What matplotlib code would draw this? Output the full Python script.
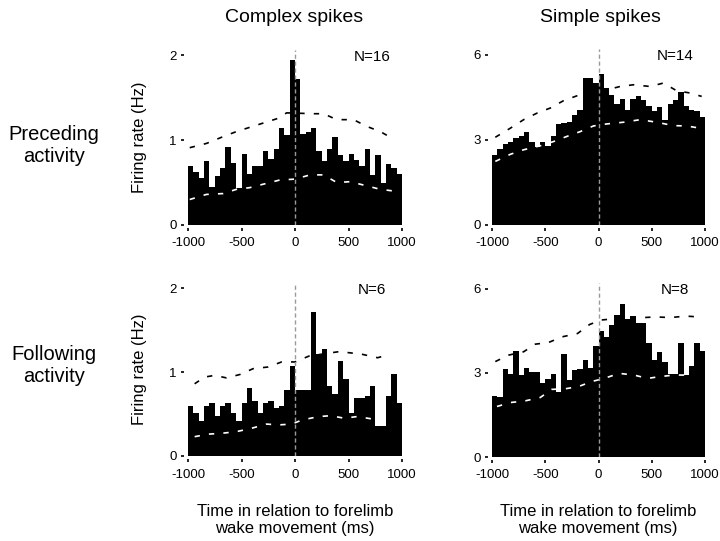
import numpy as np
import matplotlib
matplotlib.use("Agg")
import matplotlib.pyplot as plt

plt.rcParams["font.family"] = ["Liberation Sans", "DejaVu Sans"]

# ---------- data ----------
bin_start = -1000
bin_width = 50

# mean firing rate per 50 ms bin, -1000..1000 ms
cs_pre = [0.69, 0.62, 0.55, 0.75, 0.45, 0.58, 0.67, 0.92, 0.73, 0.43,
          0.84, 0.60, 0.69, 0.69, 0.87, 0.78, 0.90, 1.14, 1.06, 1.94,
          1.72, 1.07, 1.10, 1.14, 0.87, 0.75, 0.90, 1.04, 0.82, 0.75,
          0.84, 0.76, 0.69, 0.90, 0.59, 0.82, 0.49, 0.72, 0.67, 0.60]
ss_pre = [2.47, 2.67, 2.86, 2.93, 3.05, 3.12, 3.26, 2.94, 2.74, 2.94,
          2.79, 3.12, 3.56, 3.59, 3.64, 3.88, 4.04, 5.18, 5.18, 5.00,
          5.32, 4.82, 4.59, 4.27, 4.44, 4.06, 4.45, 4.56, 4.39, 4.20,
          4.00, 4.15, 3.71, 4.26, 4.41, 4.68, 4.20, 4.04, 4.02, 3.82]
cs_fol = [0.60, 0.51, 0.42, 0.60, 0.63, 0.48, 0.60, 0.63, 0.51, 0.42,
          0.63, 0.81, 0.66, 0.51, 0.63, 0.66, 0.57, 0.60, 0.78, 1.07,
          0.79, 0.78, 0.78, 1.72, 1.22, 1.28, 0.83, 0.74, 1.13, 0.92,
          0.51, 0.69, 0.69, 0.72, 0.83, 0.36, 0.36, 0.72, 0.98, 0.63]
ss_fol = [2.18, 2.13, 3.12, 2.96, 3.79, 2.92, 3.16, 3.04, 3.04, 2.63,
          2.77, 2.96, 2.30, 3.66, 2.75, 3.10, 3.12, 3.46, 3.16, 3.95,
          4.49, 4.28, 4.72, 5.05, 5.44, 4.91, 5.03, 4.79, 4.78, 4.05,
          3.46, 3.73, 3.40, 2.95, 2.95, 4.07, 2.92, 3.24, 4.07, 3.79]

# confidence bounds (dashed), sampled points
cs_pre_hi_t = [-984, -828, -672, -547, -422, -297, -172, -78, 172, 266, 391, 547, 672, 797, 922]
cs_pre_hi = [0.91, 0.96, 1.04, 1.10, 1.15, 1.20, 1.25, 1.32, 1.31, 1.31, 1.24, 1.24, 1.16, 1.10, 1.01]
cs_pre_lo_t = [-984, -828, -672, -547, -422, -266, -141, 0, 141, 266, 391, 516, 641, 797, 922]
cs_pre_lo = [0.30, 0.36, 0.37, 0.42, 0.44, 0.49, 0.53, 0.54, 0.59, 0.59, 0.50, 0.51, 0.47, 0.42, 0.40]

ss_pre_hi_t = [-969, -828, -703, -578, -453, -328, -203, 78, 203, 328, 484, 609, 734, 859, 969]
ss_pre_hi = [3.09, 3.41, 3.71, 3.94, 4.12, 4.38, 4.55, 4.76, 4.88, 4.94, 4.88, 5.00, 4.73, 4.65, 4.53]
ss_pre_lo_t = [-969, -828, -703, -547, -422, -297, -172, -47, 78, 234, 391, 547, 703, 828, 953]
ss_pre_lo = [2.24, 2.49, 2.65, 2.79, 2.94, 3.12, 3.29, 3.49, 3.56, 3.62, 3.71, 3.62, 3.50, 3.49, 3.41]

cs_fol_hi_t = [-938, -844, -750, -641, -516, -391, -250, -125, 0, 131, 397, 506, 631, 772, 881]
cs_fol_hi = [0.86, 0.94, 0.96, 0.93, 0.97, 1.04, 1.06, 1.12, 1.12, 1.19, 1.24, 1.23, 1.21, 1.17, 1.21]
cs_fol_lo_t = [-938, -813, -688, -547, -406, -266, -156, -31, 69, 225, 334, 459, 584, 725, 850]
cs_fol_lo = [0.23, 0.26, 0.27, 0.29, 0.33, 0.38, 0.37, 0.38, 0.43, 0.47, 0.48, 0.45, 0.47, 0.44, 0.46]

ss_fol_hi_t = [-969, -844, -703, -594, -469, -344, -197, -84, 22, 163, 428, 538, 678, 819, 953]
ss_fol_hi = [3.40, 3.63, 3.75, 4.02, 4.08, 4.28, 4.40, 4.72, 4.88, 4.93, 4.97, 4.99, 4.97, 5.02, 4.99]
ss_fol_lo_t = [-953, -828, -688, -547, -438, -313, -188, -63, 53, 194, 334, 459, 569, 709, 850]
ss_fol_lo = [1.80, 1.94, 2.00, 2.12, 2.41, 2.43, 2.51, 2.69, 2.80, 2.98, 2.92, 2.80, 2.86, 2.92, 2.92]

panels = [
    # rates, hi_t, hi, lo_t, lo, yticks, ymax, N
    (cs_pre, cs_pre_hi_t, cs_pre_hi, cs_pre_lo_t, cs_pre_lo, [0, 1, 2], 2.06, "N=16"),
    (ss_pre, ss_pre_hi_t, ss_pre_hi, ss_pre_lo_t, ss_pre_lo, [0, 3, 6], 6.2, "N=14"),
    (cs_fol, cs_fol_hi_t, cs_fol_hi, cs_fol_lo_t, cs_fol_lo, [0, 1, 2], 2.06, "N=6"),
    (ss_fol, ss_fol_hi_t, ss_fol_hi, ss_fol_lo_t, ss_fol_lo, [0, 3, 6], 6.2, "N=8"),
]
xticks = [-1000, -500, 0, 500, 1000]

# ---------- figure ----------
W, H = 720, 541
fig = plt.figure(figsize=(W / 100, H / 100), dpi=100)

# axes boxes in pixels: left, top, right, bottom
boxes = [(188, 50, 402, 225), (492, 49, 705, 225),
         (188, 283, 402, 456), (492, 283, 705, 457)]

axes = []
for (l, t, r, b) in boxes:
    axes.append(fig.add_axes([l / W, 1 - b / H, (r - l) / W, (b - t) / H]))

for i, (ax, p) in enumerate(zip(axes, panels)):
    rates, hi_t, hi, lo_t, lo, yt, ymax, ntxt = p
    left_edges = bin_start + bin_width * np.arange(len(rates))
    ax.bar(left_edges, rates, width=bin_width, align="edge",
           color="black", edgecolor="none", zorder=2)
    ax.plot(hi_t, hi, color="black", lw=1.2, dashes=(3.2, 5.5), zorder=3)
    ax.plot(lo_t, lo, color="white", lw=1.2, dashes=(3.2, 5.5), zorder=3)
    ax.axvline(0, color="#9a9a9a", lw=1.0, dashes=(3, 2), zorder=4)

    ax.set_xlim(-1000, 1000)
    ax.set_ylim(0, ymax)
    ax.set_xticks(xticks)
    ax.set_yticks(yt)
    ax.set_xticklabels([str(v) for v in xticks])
    ax.set_yticklabels([str(v) for v in yt])

    for s in ("top", "right"):
        ax.spines[s].set_visible(False)
    ax.spines["left"].set_position(("outward", 3))
    ax.spines["bottom"].set_position(("outward", 2))
    ax.spines["left"].set_visible(False)
    ax.spines["bottom"].set_visible(False)
    ax.tick_params(axis="both", direction="out", length=2, width=1.2,
                   labelsize=9.5, color="black")
    ax.tick_params(axis="x", pad=5)
    ax.tick_params(axis="y", pad=3)

    ax.text(0.86, 0.96, ntxt, transform=ax.transAxes, ha="center", va="center",
            fontsize=11)
    if i % 2 == 0:
        ax.set_ylabel("Firing rate (Hz)", fontsize=12)
        ax.yaxis.set_label_coords(-0.19, 0.5)

# column titles
fig.text(294 / W, 1 - 17 / H, "Complex spikes", ha="center", va="center", fontsize=14)
fig.text(600 / W, 1 - 17 / H, "Simple spikes", ha="center", va="center", fontsize=14)

# row labels
fig.text(54 / W, 1 - 146 / H, "Preceding\nactivity", ha="center", va="center",
         fontsize=14.5, linespacing=1.2)
fig.text(54 / W, 1 - 366 / H, "Following\nactivity", ha="center", va="center",
         fontsize=14.5, linespacing=1.2)

# x labels
for xc in (295, 598):
    fig.text(xc / W, 1 - 520 / H, "Time in relation to forelimb\nwake movement (ms)",
             ha="center", va="center", fontsize=12, linespacing=1.2)

fig.savefig("out.png", dpi=100)
